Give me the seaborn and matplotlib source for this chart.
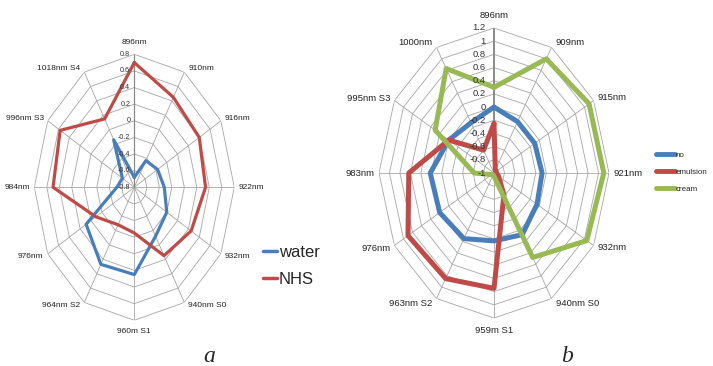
import numpy as np
import pandas as pd
import matplotlib
matplotlib.use("Agg")
import matplotlib.pyplot as plt
import seaborn as sns
from matplotlib.lines import Line2D

sns.set_theme(style="white")
plt.rcParams["font.family"] = ["Liberation Sans Narrow", "Liberation Sans", "DejaVu Sans"]

# ---- panel a: water vs NHS ----
cats_a = ["896nm", "910nm", "916nm", "922nm", "932nm", "940nm S0", "960m S1",
          "964nm S2", "976nm", "984nm", "996nm S3", "1018nm S4"]
water = [-0.68, -0.43, -0.37, -0.32, -0.20, -0.12, 0.25, 0.27, 0.09, -0.52, -0.58, -0.14]
nhs = [0.70, 0.45, 0.40, 0.34, 0.25, 0.15, -0.25, -0.28, -0.09, 0.50, 0.57, 0.15]
ticks_a = [-0.8, -0.6, -0.4, -0.2, 0.0, 0.2, 0.4, 0.6, 0.8]
tick_labels_a = ["-0.8", "-0.6", "-0.4", "-0.2", "0", "0.2", "0.4", "0.6", "0.8"]

# ---- panel b: no / emulsion / cream ----
cats_b = ["896nm", "909nm", "915nm", "921nm", "932nm", "940nm S0", "959m S1",
          "963nm S2", "976nm", "983nm", "995nm S3", "1000nm"]
no = [0.0, -0.10, -0.10, -0.08, -0.05, 0.08, 0.03, 0.15, 0.20, 0.22, 0.0, -0.12]
emulsion = [-0.25, -0.95, -0.95, -0.95, -0.90, -0.62, 0.75, 0.85, 0.90, 0.63, 0.0, -0.60]
cream = [0.30, 1.00, 1.10, 1.10, 1.05, 0.48, -0.95, -0.97, -0.95, -0.62, 0.30, 0.83]
ticks_b = [-1.0, -0.8, -0.6, -0.4, -0.2, 0.0, 0.2, 0.4, 0.6, 0.8, 1.0, 1.2]
tick_labels_b = ["-1", "-0.8", "-0.6", "-0.4", "-0.2", "0", "0.2", "0.4", "0.6",
                 "0.8", "1", "1.2"]

BLUE, RED, GREEN = "#4a7ebb", "#be4b48", "#98b954"
PX = 0.72  # points per pixel at 100 dpi


def long_frame(cats, series):
    n = len(cats)
    theta = np.linspace(0, 2 * np.pi, n, endpoint=False)
    rows = []
    for name, vals in series.items():
        th = np.append(theta, 2 * np.pi)
        vv = list(vals) + [vals[0]]
        rows += [(name, t, v) for t, v in zip(th, vv)]
    return pd.DataFrame(rows, columns=["series", "theta", "value"])


def radar(ax, cats, series, palette, ticks, tick_labels, lw, label_fs, tick_fs,
          tick_gap, axis_lw):
    n = len(cats)
    theta = np.linspace(0, 2 * np.pi, n, endpoint=False)
    closed = np.append(theta, 2 * np.pi)
    rmin, rmax = ticks[0], ticks[-1]
    ax.set_theta_zero_location("N")
    ax.set_theta_direction(-1)
    ax.grid(False)
    ax.spines["polar"].set_visible(False)
    ax.set_facecolor("none")

    # polygon rings and spokes
    for t in ticks[1:]:
        ax.plot(closed, [t] * len(closed), color="#a6a6a6", lw=0.6, zorder=1)
    for i, a in enumerate(theta):
        if i == 0:
            ax.plot([a, a], [rmin, rmax], color="#8a8a8a", lw=axis_lw, zorder=1.5)
        else:
            ax.plot([a, a], [rmin, rmax], color="#a6a6a6", lw=0.6, zorder=1)

    df = long_frame(cats, series)
    sns.lineplot(data=df, x="theta", y="value", hue="series", palette=palette,
                 sort=False, estimator=None, legend=False, linewidth=lw, ax=ax,
                 zorder=3)
    ax.set_xlabel("")
    ax.set_ylabel("")
    ax.set_xticks([])
    ax.set_yticks([])
    ax.set_ylim(rmin, rmax)
    ax.set_aspect("auto")

    # value labels along the top spoke
    for t, lab in zip(ticks, tick_labels):
        ax.annotate(lab, xy=(0, t), xytext=(-tick_gap * PX, 0),
                    textcoords="offset points", ha="right", va="center",
                    fontsize=tick_fs, color="#333333", zorder=4)

    # category labels
    for a, lab in zip(theta, cats):
        s, c = np.sin(a), np.cos(a)
        if abs(s) < 0.1:
            ha = "center"
            va = "bottom" if c > 0 else "top"
            off = (0, 8 * PX if c > 0 else -8 * PX)
        else:
            ha = "left" if s > 0 else "right"
            if c > 0.6:
                va, dy = "bottom", 0
            elif c < -0.6:
                va, dy = "top", 0
            else:
                va, dy = "center", 5 * c
            off = (4 * np.sign(s) * PX, dy * PX)
        ax.annotate(lab, xy=(a, rmax), xytext=off, textcoords="offset points",
                    ha=ha, va=va, fontsize=label_fs, color="#222222")


fig = plt.figure(figsize=(7.13, 3.66), dpi=100)
fig.patch.set_facecolor("white")

ax_a = fig.add_axes([34.3 / 713, 1 - 320.3 / 366, 200 / 713, 266 / 366],
                    projection="polar")
radar(ax_a, cats_a, {"water": water, "NHS": nhs},
      {"water": BLUE, "NHS": RED}, ticks_a, tick_labels_a,
      lw=2.3, label_fs=6.0, tick_fs=5.2, tick_gap=4, axis_lw=0.9)

ax_b = fig.add_axes([379 / 713, 1 - 318 / 366, 230 / 713, 290 / 366],
                    projection="polar")
radar(ax_b, cats_b, {"no": no, "emulsion": emulsion, "cream": cream},
      {"no": BLUE, "emulsion": RED, "cream": GREEN}, ticks_b, tick_labels_b,
      lw=3.6, label_fs=6.8, tick_fs=6.8, tick_gap=8, axis_lw=1.4)

# legends
h_a = [Line2D([], [], color=BLUE, lw=2.5), Line2D([], [], color=RED, lw=2.5)]
fig.legend(h_a, ["water", "NHS"], loc="center left",
           bbox_to_anchor=(263 / 713, 1 - 266 / 366), frameon=False,
           fontsize=12, handlelength=0.85, handletextpad=0.1, labelspacing=0.7,
           borderpad=0, borderaxespad=0)

h_b = [Line2D([], [], color=BLUE, lw=3.5), Line2D([], [], color=RED, lw=3.5),
       Line2D([], [], color=GREEN, lw=3.5)]
fig.legend(h_b, ["no", "emulsion", "cream"], loc="center left",
           bbox_to_anchor=(656 / 713, 1 - 172 / 366), frameon=False,
           fontsize=5.8, handlelength=2.4, handletextpad=0.05, labelspacing=1.2,
           borderpad=0, borderaxespad=0)

serif = ["Liberation Serif", "DejaVu Serif"]
fig.text(209.5 / 713, 1 - 357 / 366, "a", family=serif, style="italic",
         fontsize=17, ha="center", va="center")
fig.text(567 / 713, 1 - 356 / 366, "b", family=serif, style="italic",
         fontsize=17, ha="center", va="center")

fig.savefig("out.png", dpi=100, facecolor="white")
